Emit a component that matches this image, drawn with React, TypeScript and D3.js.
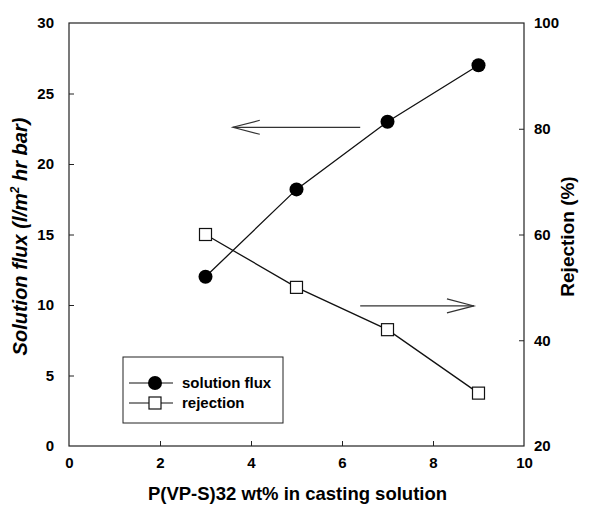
import { useEffect, useRef } from "react";
import * as d3 from "d3";

const width = 590;
const height = 506;
const margin = { top: 23, right: 66, bottom: 60, left: 69 };

// P(VP-S)32 wt% in casting solution
const concentration = [3, 5, 7, 9];
// solution flux (l/m2 hr bar), left axis
const flux = [12, 18.2, 23, 27];
// rejection (%), right axis
const rejection = [60, 50, 42, 30];

const xTicks = [0, 2, 4, 6, 8, 10];
const fluxTicks = [0, 5, 10, 15, 20, 25, 30];
const rejTicks = [20, 40, 60, 80, 100];

// arrows pointing to the axis each curve belongs to: [x from, x to, y]
const fluxArrow = [6.4, 3.6, 22.6];
const rejArrow = [6.4, 8.9, 46.5];

const font = "'Liberation Sans', Arial, sans-serif";

export default function App() {
  const d3Node = useRef<SVGSVGElement | null>(null);

  useEffect(() => {
    const svg = d3.select(d3Node.current);
    svg.selectAll("*").remove();

    const innerW = width - margin.left - margin.right;
    const innerH = height - margin.top - margin.bottom;

    const x = d3.scaleLinear().domain([0, 10]).range([0, innerW]);
    const yL = d3.scaleLinear().domain([0, 30]).range([innerH, 0]);
    const yR = d3.scaleLinear().domain([20, 100]).range([innerH, 0]);

    const g = svg
      .append("g")
      .attr("transform", "translate(" + margin.left + "," + margin.top + ")");

    // frame
    g.append("rect")
      .attr("width", innerW)
      .attr("height", innerH)
      .attr("fill", "none")
      .attr("stroke", "#222")
      .attr("stroke-width", 1.2);

    const styleAxis = (sel: any) => {
      sel.select(".domain").remove();
      sel.attr("font-family", font).attr("font-size", 15).attr("font-weight", "bold");
      sel.selectAll("line").attr("stroke", "#222").attr("stroke-width", 1);
      sel.selectAll("text").style("font-weight", "bold").attr("fill", "#000");
    };

    g.append("g")
      .attr("transform", "translate(0," + innerH + ")")
      .call(d3.axisBottom(x).tickValues(xTicks).tickSize(-5).tickPadding(11).tickFormat(d3.format("d")))
      .call(styleAxis)
      .selectAll(".tick line")
      .attr("display", (d: any) => (d === 0 || d === 10 ? "none" : null));

    g.append("g")
      .call(d3.axisLeft(yL).tickValues(fluxTicks).tickSize(-5).tickPadding(15).tickFormat(d3.format("d")))
      .call(styleAxis)
      .selectAll(".tick line")
      .attr("display", (d: any) => (d === 0 || d === 30 ? "none" : null));

    g.append("g")
      .attr("transform", "translate(" + innerW + ",0)")
      .call(d3.axisRight(yR).tickValues(rejTicks).tickSize(-5).tickPadding(10).tickFormat(d3.format("d")))
      .call(styleAxis)
      .selectAll(".tick line")
      .attr("display", (d: any) => (d === 20 || d === 100 ? "none" : null));

    // axis titles
    g.append("text")
      .attr("x", innerW / 2 + 1)
      .attr("y", innerH + 54)
      .attr("text-anchor", "middle")
      .attr("font-family", font)
      .attr("font-weight", "bold")
      .attr("font-size", 18.5)
      .text("P(VP-S)32 wt% in casting solution");

    const lt = g
      .append("text")
      .attr("transform", "translate(" + (-42) + "," + (innerH / 2 + 2) + ") rotate(-90)")
      .attr("text-anchor", "middle")
      .attr("font-family", font)
      .attr("font-weight", "bold")
      .attr("font-style", "italic")
      .attr("font-size", 20);
    lt.append("tspan").text("Solution flux (l/m");
    lt.append("tspan").attr("font-size", 12).attr("dy", -8).text("2");
    lt.append("tspan").attr("dy", 8).text(" hr bar)");

    g.append("text")
      .attr("transform", "translate(" + (innerW + 50) + "," + (innerH / 2 + 2) + ") rotate(-90)")
      .attr("text-anchor", "middle")
      .attr("font-family", font)
      .attr("font-weight", "bold")
      .attr("font-size", 19)
      .text("Rejection (%)");

    // arrows
    const drawArrow = (a: number[], y: any) => {
      const x1 = x(a[0]);
      const x2 = x(a[1]);
      const yy = y(a[2]);
      const dir = x2 > x1 ? 1 : -1;
      g.append("path")
        .attr("d", "M" + x1 + "," + yy + "L" + x2 + "," + yy)
        .attr("stroke", "#333")
        .attr("stroke-width", 1.2)
        .attr("fill", "none");
      g.append("path")
        .attr(
          "d",
          "M" + (x2 - dir * 27) + "," + (yy - 7) + "L" + x2 + "," + yy + "L" + (x2 - dir * 27) + "," + (yy + 7)
        )
        .attr("stroke", "#333")
        .attr("stroke-width", 1.1)
        .attr("fill", "none");
    };
    drawArrow(fluxArrow, yL);
    drawArrow(rejArrow, yR);

    // lines
    const fluxLine = d3
      .line<number>()
      .x((d, i) => x(concentration[i]))
      .y((d) => yL(d));
    const rejLine = d3
      .line<number>()
      .x((d, i) => x(concentration[i]))
      .y((d) => yR(d));

    g.append("path")
      .attr("d", fluxLine(flux))
      .attr("fill", "none")
      .attr("stroke", "#111")
      .attr("stroke-width", 1.3);
    g.append("path")
      .attr("d", rejLine(rejection))
      .attr("fill", "none")
      .attr("stroke", "#111")
      .attr("stroke-width", 1.3);

    g.selectAll(".flux")
      .data(flux)
      .enter()
      .append("circle")
      .attr("cx", (d, i) => x(concentration[i]))
      .attr("cy", (d) => yL(d))
      .attr("r", 7)
      .attr("fill", "#000");

    g.selectAll(".rej")
      .data(rejection)
      .enter()
      .append("rect")
      .attr("x", (d, i) => x(concentration[i]) - 6)
      .attr("y", (d) => yR(d) - 6)
      .attr("width", 12)
      .attr("height", 12)
      .attr("fill", "#fff")
      .attr("stroke", "#111")
      .attr("stroke-width", 1.2);

    // legend
    const lg = g.append("g").attr("transform", "translate(" + (123 - margin.left) + "," + (357 - margin.top) + ")");
    lg.append("rect")
      .attr("width", 160)
      .attr("height", 66)
      .attr("fill", "#fff")
      .attr("stroke", "#222")
      .attr("stroke-width", 1);
    const entries = ["solution flux", "rejection"];
    entries.forEach((name, i) => {
      const cy = 26 + i * 20;
      lg.append("line")
        .attr("x1", 6)
        .attr("x2", 50)
        .attr("y1", cy)
        .attr("y2", cy)
        .attr("stroke", "#111")
        .attr("stroke-width", 1.2);
      if (i === 0) {
        lg.append("circle").attr("cx", 32).attr("cy", cy).attr("r", 7).attr("fill", "#000");
      } else {
        lg.append("rect")
          .attr("x", 26)
          .attr("y", cy - 6)
          .attr("width", 12)
          .attr("height", 12)
          .attr("fill", "#fff")
          .attr("stroke", "#111")
          .attr("stroke-width", 1.2);
      }
      lg.append("text")
        .attr("x", 59)
        .attr("y", cy)
        .attr("dy", "0.35em")
        .attr("font-family", font)
        .attr("font-weight", "bold")
        .attr("font-size", 15)
        .text(name);
    });
  }, []);

  return (
    <svg
      ref={d3Node}
      width={width}
      height={height}
      style={{ position: "absolute", left: 0, top: 0, background: "#fff" }}
    />
  );
}
